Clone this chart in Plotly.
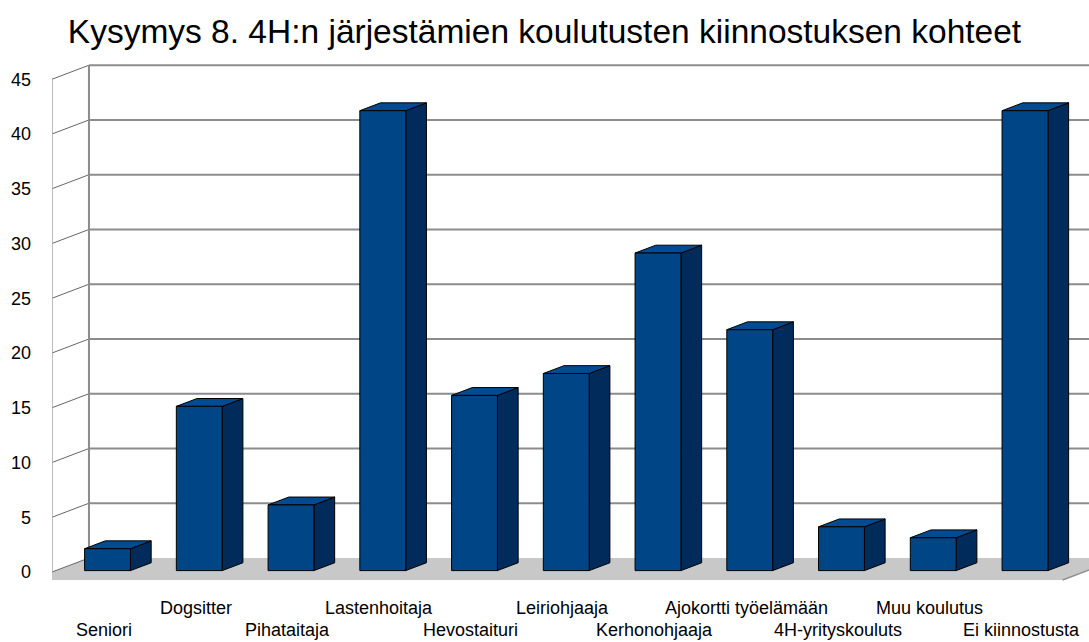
import plotly.graph_objects as go

# data
categories = ["Seniori", "Dogsitter", "Pihataitaja", "Lastenhoitaja", "Hevostaituri",
              "Leiriohjaaja", "Kerhonohjaaja", "Ajokortti työelämään",
              "4H-yrityskouluts", "Muu koulutus", "Ei kiinnostusta"]
values = [2, 15, 6, 42, 16, 18, 29, 22, 4, 3, 42]
y_ticks = [0, 5, 10, 15, 20, 25, 30, 35, 40, 45]
title = "Kysymys 8. 4H:n järjestämien koulutusten kiinnostuksen kohteet"

# fake 3D geometry (data units)
DX, DY = 0.403, 1.28          # offset from front plane to back wall
Z_FRONT, Z_BACK = 0.1, 0.66   # bar depth inside the floor
HALF = 0.25                   # half bar width
X_LEFT, X_RIGHT = -0.565, 10.45
SLAB = -0.73

FRONT_C = "#004586"
TOP_C = "#004b91"
SIDE_C = "#002b5a"
GRID_C = "#8c8c8c"

fig = go.Figure()

# floor
fx = [X_LEFT, X_RIGHT, X_RIGHT + DX, X_RIGHT + DX, X_LEFT + DX, X_LEFT, X_LEFT]
fy = [SLAB, SLAB, SLAB + DY, DY, DY, 0, SLAB]
fig.add_trace(go.Scatter(x=fx, y=fy, fill="toself", fillcolor="#c8c8c8",
                         mode="lines", line=dict(width=0), hoverinfo="skip"))
fig.add_trace(go.Scatter(x=[X_RIGHT, X_RIGHT + DX], y=[SLAB, SLAB + DY], mode="lines",
                         line=dict(color="#909090", width=1.5), hoverinfo="skip"))

# back wall grid lines + diagonals on the side wall
gx, gy, dx, dy = [], [], [], []
for v in y_ticks:
    if v > 0:
        gx += [X_LEFT + DX, 12, None]
        gy += [v + DY, v + DY, None]
    dx += [X_LEFT, X_LEFT + DX, None]
    dy += [v, v + DY, None]
fig.add_trace(go.Scatter(x=gx, y=gy, mode="lines", line=dict(color=GRID_C, width=2),
                         hoverinfo="skip"))
fig.add_trace(go.Scatter(x=dx, y=dy, mode="lines", line=dict(color="#666666", width=1),
                         hoverinfo="skip"))
# wall edges
top = y_ticks[-1]
fig.add_trace(go.Scatter(x=[X_LEFT + DX, X_LEFT + DX], y=[DY, top + DY], mode="lines",
                         line=dict(color=GRID_C, width=2), hoverinfo="skip"))
fig.add_trace(go.Scatter(x=[X_LEFT, X_LEFT], y=[0, top], mode="lines",
                         line=dict(color="#a8a8a8", width=1.5), hoverinfo="skip"))

# bars: front, top and side faces
fxs, fys, txs, tys, sxs, sys_ = [], [], [], [], [], []
bf, bb = Z_FRONT * DY, Z_BACK * DY
ox, ddx = Z_FRONT * DX, (Z_BACK - Z_FRONT) * DX
for i, v in enumerate(values):
    xl, xr = i + ox - HALF, i + ox + HALF
    fxs += [xl, xr, xr, xl, xl, None]
    fys += [bf, bf, v + bf, v + bf, bf, None]
    txs += [xl, xr, xr + ddx, xl + ddx, xl, None]
    tys += [v + bf, v + bf, v + bb, v + bb, v + bf, None]
    sxs += [xr, xr + ddx, xr + ddx, xr, xr, None]
    sys_ += [bf, bb, v + bb, v + bf, bf, None]

for xs, ys, c in [(sxs, sys_, SIDE_C), (txs, tys, TOP_C), (fxs, fys, FRONT_C)]:
    fig.add_trace(go.Scatter(x=xs, y=ys, fill="toself", fillcolor=c, mode="lines",
                             line=dict(color="#000000", width=1), hoverinfo="skip"))

# category labels, staggered in two rows
for i, name in enumerate(categories):
    fig.add_annotation(x=i, y=-0.043 if i % 2 else -0.085, xref="x", yref="paper",
                       text=name, showarrow=False, yanchor="middle",
                       font=dict(size=18, color="#000000"))

fig.update_layout(
    width=1089, height=642,
    paper_bgcolor="white", plot_bgcolor="white",
    showlegend=False,
    margin=dict(l=52, r=0, t=50, b=57),
    font=dict(family="Liberation Sans, Arial, sans-serif", color="#000000"),
    title=dict(text=title, x=0.5, xanchor="center", y=0.951, yanchor="middle",
               font=dict(size=33.5, color="#000000")),
    xaxis=dict(range=[X_LEFT, 10.738], showgrid=False, zeroline=False,
               showticklabels=False, showline=False),
    yaxis=dict(range=[-1.187, 47.67], showgrid=False, zeroline=False, showline=False,
               tickvals=y_ticks, ticks="", ticklabelstandoff=20,
               tickfont=dict(size=18, color="#000000")),
)

fig.write_html("out.html", config={"displayModeBar": False},
               post_script="document.body.style.margin='0';")
